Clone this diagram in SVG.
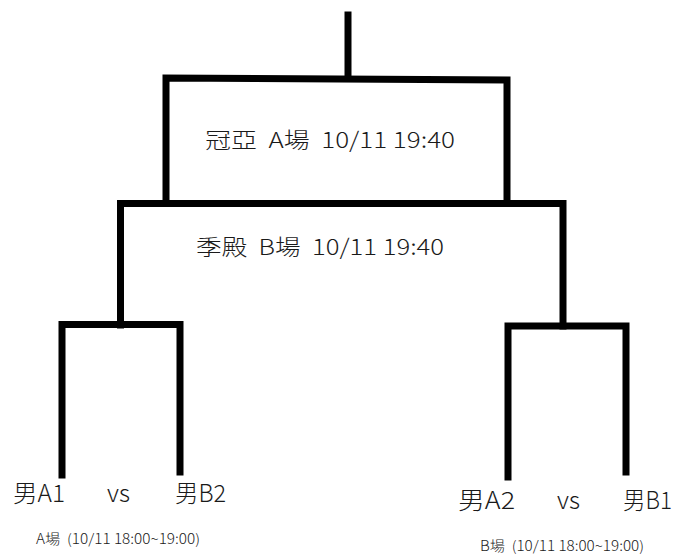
<svg xmlns="http://www.w3.org/2000/svg" width="679" height="556" viewBox="0 0 679 556">
<style>
.ln{stroke:#000;stroke-width:7;fill:none;stroke-linecap:square;stroke-linejoin:miter}
.t{font-family:"Noto Sans CJK TC Light","Noto Sans CJK TC","Noto Sans CJK SC",sans-serif;font-weight:300;fill:#1a1a1a;white-space:pre}
.title{font-size:22px}
.team{font-size:24px}
.sub{font-size:14px}
</style>
<rect width="679" height="556" fill="#fff"/>
<g id="connectors">
<path class="ln" d="M348,15 V77"/>
<path class="ln" d="M166,203 V78 L507,80 V203"/>
<path class="ln" d="M120.5,325 V203.5 H563 V326"/>
<path class="ln" d="M62,475 V324.5 H180 V472"/>
<path class="ln" d="M508,477 V326 H626 V472"/>
</g>
<g id="final"><text xml:space="preserve" class="t title" x="205" y="148" textLength="250" lengthAdjust="spacingAndGlyphs">冠亞  A場  10/11 19:40</text></g>
<g id="semifinal"><text xml:space="preserve" class="t title" x="196" y="255" textLength="248" lengthAdjust="spacingAndGlyphs">季殿  B場  10/11 19:40</text></g>
<g id="match-a">
<text class="t team" x="13" y="502" textLength="52" lengthAdjust="spacingAndGlyphs">男A1</text>
<text class="t team" x="107" y="502" textLength="23" lengthAdjust="spacingAndGlyphs">vs</text>
<text class="t team" x="175" y="502" textLength="51" lengthAdjust="spacingAndGlyphs">男B2</text>
<text xml:space="preserve" class="t sub" x="36" y="544" textLength="164" lengthAdjust="spacingAndGlyphs">A場  (10/11 18:00~19:00)</text>
</g>
<g id="match-b">
<text class="t team" x="458" y="509" textLength="57" lengthAdjust="spacingAndGlyphs">男A2</text>
<text class="t team" x="557" y="509" textLength="23" lengthAdjust="spacingAndGlyphs">vs</text>
<text class="t team" x="623" y="509" textLength="49" lengthAdjust="spacingAndGlyphs">男B1</text>
<text xml:space="preserve" class="t sub" x="480" y="551" textLength="164" lengthAdjust="spacingAndGlyphs">B場  (10/11 18:00~19:00)</text>
</g>
</svg>
